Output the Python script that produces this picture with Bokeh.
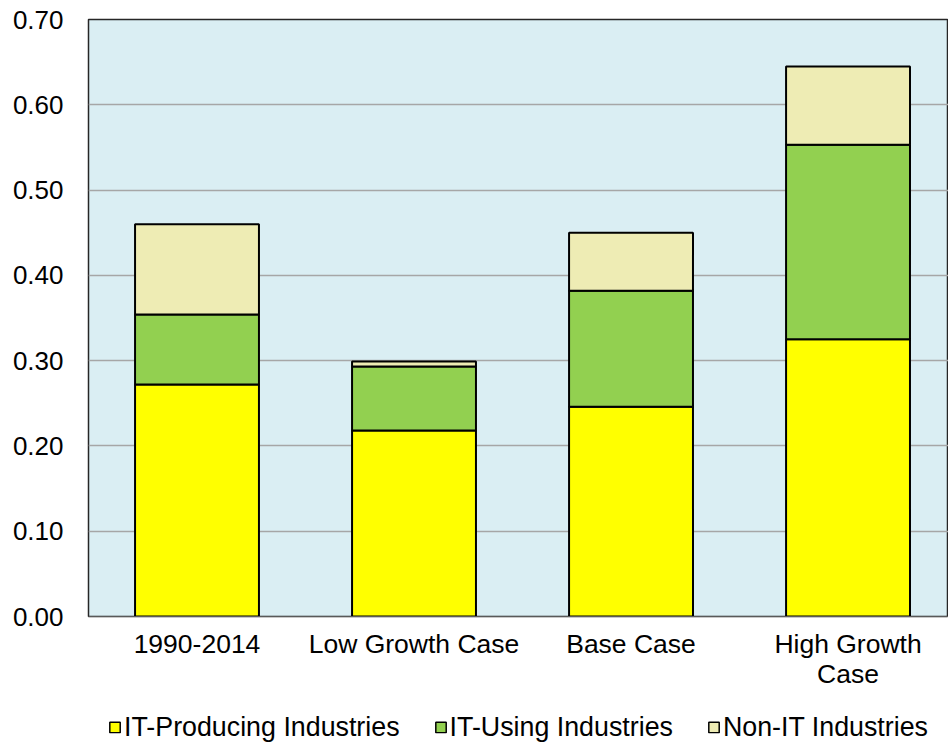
from bokeh.plotting import figure
from bokeh.layouts import column
from bokeh.models import Range1d, FixedTicker, NumeralTickFormatter, Legend, LegendItem
from bokeh.embed import file_html
from bokeh.resources import INLINE

categories = ["1990-2014", "Low Growth Case", "Base Case", "High Growth Case"]
tick_labels = ["1990-2014", "Low Growth Case", "Base Case", "High Growth\nCase"]
it_producing = [0.272, 0.218, 0.246, 0.325]
it_using = [0.082, 0.075, 0.136, 0.228]
non_it = [0.106, 0.006, 0.068, 0.092]
series_names = ["IT-Producing Industries", "IT-Using Industries", "Non-IT Industries"]
y_ticks = [0.0, 0.1, 0.2, 0.3, 0.4, 0.5, 0.6, 0.7]

colors = ["#FFFF00", "#92D050", "#EEECB4"]
FONT = "Liberation Sans"

xs = [i + 0.5 for i in range(len(categories))]
data = {"x": xs, "a": it_producing, "b": it_using, "c": non_it}

p = figure(width=948, height=709, output_backend="svg", toolbar_location=None,
           x_range=Range1d(0, 3.963), y_range=Range1d(0, 0.70),
           min_border_left=88, min_border_right=0, min_border_top=19, min_border_bottom=93)
p.background_fill_color = "#DAEEF3"
p.border_fill_color = "white"
p.outline_line_color = "#262626"
p.outline_line_width = 1.5

p.vbar_stack(["a", "b", "c"], x="x", width=0.571, source=data,
             fill_color=colors, line_color="black", line_width=2)

p.xgrid.grid_line_color = None
p.ygrid.grid_line_color = "#A6A6A6"
p.ygrid.grid_line_width = 1.5
p.ygrid.ticker = FixedTicker(ticks=y_ticks)

p.yaxis.ticker = FixedTicker(ticks=y_ticks)
p.yaxis.formatter = NumeralTickFormatter(format="0.00")
p.yaxis.axis_line_color = None
p.yaxis.major_tick_line_color = None
p.yaxis.minor_tick_line_color = None
p.yaxis.major_label_standoff = 19
p.yaxis.major_label_text_font = FONT
p.yaxis.major_label_text_font_size = "26px"
p.yaxis.major_label_text_color = "black"

p.xaxis.ticker = FixedTicker(ticks=xs)
p.xaxis.major_label_overrides = {x: lab for x, lab in zip(xs, tick_labels)}
p.xaxis.axis_line_color = "#595959"
p.xaxis.major_tick_line_color = None
p.xaxis.minor_tick_line_color = None
p.xaxis.major_label_standoff = 6
p.xaxis.major_label_text_font = FONT
p.xaxis.major_label_text_font_size = "26.5px"
p.xaxis.major_label_text_line_height = 1.0
p.xaxis.major_label_text_color = "black"

# legend strip below the chart
lg = figure(width=948, height=36, output_backend="svg", toolbar_location=None,
            x_axis_type=None, y_axis_type=None,
            x_range=Range1d(0, 3.963), y_range=Range1d(0, 0.70),
            min_border_left=88, min_border_right=0, min_border_top=0, min_border_bottom=0)
lg.outline_line_color = None
lg.background_fill_color = "white"
lg.xgrid.visible = False
lg.ygrid.visible = False
proxies = lg.vbar_stack(["a", "b", "c"], x="x", width=0.571, source=data,
                        fill_color=colors, line_color="black", line_width=1.5)
for r in proxies:
    r.visible = False

legend = Legend(items=[LegendItem(label=n, renderers=[r]) for n, r in zip(series_names, proxies)],
                orientation="horizontal", location="center",
                glyph_width=13, glyph_height=13, label_standoff=3, spacing=34,
                label_text_font=FONT, label_text_font_size="26.8px", label_text_color="black",
                inactive_fill_alpha=0.0,
                border_line_color=None, background_fill_alpha=0, padding=0, margin=0)
lg.add_layout(legend, "center")

layout = column(p, lg, spacing=0)
open("out.html", "w").write(file_html(layout, INLINE))
